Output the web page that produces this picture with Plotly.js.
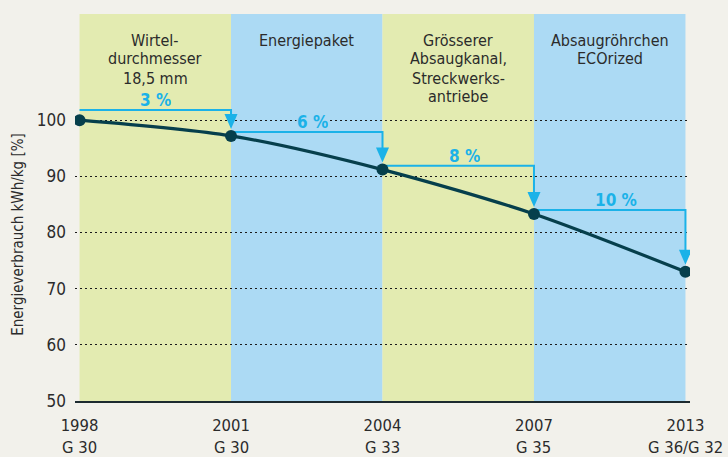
<!DOCTYPE html>
<html>
<head>
<meta charset="utf-8">
<script src="https://cdn.plot.ly/plotly-3.0.1.min.js"></script>
<style>
  html, body { margin: 0; padding: 0; background: #f2f1eb; }
  #chart { width: 728px; height: 457px; }
</style>
</head>
<body>
<div id="chart"></div>
<script>
// ---- data ----
const years = ['1998', '2001', '2004', '2007', '2013'];
const models = ['G 30', 'G 30', 'G 33', 'G 35', 'G 36/G 32'];
const energy = [100, 97.2, 91.2, 83.3, 73.0];
const savings = ['3 %', '6 %', '8 %', '10 %'];
const measures = [
  ['Wirtel-', 'durchmesser', '18,5 mm'],
  ['Energiepaket'],
  ['Grösserer', 'Absaugkanal,', 'Streckwerks-', 'antriebe'],
  ['Absaugröhrchen', 'ECOrized']
];
const yTicks = [50, 60, 70, 80, 90, 100];

// ---- style ----
const FONT = 'DejaVu Sans Condensed, Liberation Sans Narrow, sans-serif';
const BG = '#f2f1eb';
const YELLOW = '#e3ebb1';
const BLUE = '#acdaf4';
const CURVE = '#063f4c';
const CYAN = '#1bb2e8';
const TEXT = '#2b2b2b';
const bandColors = [YELLOW, BLUE, YELLOW, BLUE];
const xIdx = years.map((_, i) => i);
const xRange = [-0.03, years.length - 1 + 0.03];
const yRange = [50, 118.9];
const PLOT_TOP = 14, PLOT_H = 387;           // px
const pyToPaper = py => (PLOT_TOP + PLOT_H - py) / PLOT_H;

// bracket levels (data units above the starting point)
const bracketLift = energy.slice(0, -1).map((v, i) => i === 0 ? 1.8 : 0.7);
const bracketY = energy.slice(0, -1).map((v, i) => v + bracketLift[i]);

// bracket line trace
const bx = [], by = [];
for (let i = 0; i < savings.length; i++) {
  bx.push(xIdx[i], xIdx[i + 1], xIdx[i + 1], null);
  by.push(bracketY[i], bracketY[i], energy[i + 1] + 2.5, null);
}

const shapes = [];
measures.forEach((m, i) => {
  shapes.push({
    type: 'rect', xref: 'x', yref: 'paper',
    x0: Math.max(i, xRange[0]), x1: Math.min(i + 1, xRange[1]),
    y0: 0, y1: 1, fillcolor: bandColors[i], line: { width: 0 }, layer: 'below'
  });
});
// arrow heads
for (let i = 0; i < savings.length; i++) {
  shapes.push({
    type: 'path', xref: 'x', yref: 'y',
    xsizemode: 'pixel', ysizemode: 'pixel',
    xanchor: xIdx[i + 1], yanchor: energy[i + 1],
    path: 'M-6.5,22 L6.5,22 L0,7 Z',
    fillcolor: CYAN, line: { width: 0 }, layer: 'above'
  });
}

const annotations = [];
measures.forEach((lines, i) => {
  const cx = (Math.max(i, xRange[0]) + Math.min(i + 1, xRange[1])) / 2;
  lines.forEach((ln, k) => {
    annotations.push({
      xref: 'x', yref: 'paper', x: cx, y: pyToPaper(40 + 19 * k),
      yanchor: 'middle', xanchor: 'center', showarrow: false,
      text: ln, font: { family: FONT, size: 16, color: TEXT }
    });
  });
});
savings.forEach((s, i) => {
  annotations.push({
    xref: 'x', yref: 'y', x: xIdx[i] + 0.5 + (i === 0 ? 0 : 0.04), y: bracketY[i] + 1.8,
    showarrow: false, text: '<b>' + s + '</b>',
    font: { family: FONT, size: 17, color: CYAN },
    bgcolor: bandColors[i], height: 14, borderpad: 0
  });
});
// second row of x labels (machine models)
models.forEach((m, i) => {
  annotations.push({
    xref: 'x', yref: 'paper', x: xIdx[i], y: pyToPaper(448),
    xanchor: 'center', yanchor: 'middle', showarrow: false,
    text: m, font: { family: FONT, size: 16.5, color: TEXT }
  });
});
annotations.push({
  xref: 'paper', yref: 'paper', x: -0.094, y: 0.43,
  xanchor: 'center', yanchor: 'middle', showarrow: false, textangle: -90,
  text: 'Energieverbrauch kWh/kg [%]', font: { family: FONT, size: 15, color: TEXT }
});

const traces = [
  {
    x: bx, y: by, type: 'scatter', mode: 'lines',
    line: { color: CYAN, width: 2 }, hoverinfo: 'skip', connectgaps: false
  },
  {
    x: xIdx, y: energy, type: 'scatter', mode: 'lines+markers',
    line: { color: CURVE, width: 3.2, shape: 'spline', smoothing: 0.8 },
    marker: { color: CURVE, size: 12 }
  }
];

const layout = {
  width: 728, height: 457,
  margin: { l: 75, r: 38, t: 14, b: 56 },
  paper_bgcolor: BG, plot_bgcolor: BG,
  showlegend: false,
  font: { family: FONT, color: TEXT },
  xaxis: {
    range: xRange, showgrid: false, zeroline: false,
    tickvals: xIdx, ticktext: years,
    ticks: '', tickfont: { family: FONT, size: 16.5, color: TEXT },
    showline: true, linecolor: '#1d2b30', linewidth: 2,
    ticklabelstandoff: 8, automargin: false, fixedrange: true
  },
  yaxis: {
    range: yRange, tickvals: yTicks, ticktext: yTicks.map(String),
    showgrid: true, gridcolor: '#1a1a1a', gridwidth: 1, griddash: '2px,3px',
    zeroline: false, showline: false, ticks: '',
    tickfont: { family: FONT, size: 17, color: TEXT },
    ticklabelstandoff: 8, automargin: false, fixedrange: true
  },
  shapes: shapes,
  annotations: annotations
};

Plotly.newPlot('chart', traces, layout, { displayModeBar: false, staticPlot: true });
</script>
</body>
</html>
